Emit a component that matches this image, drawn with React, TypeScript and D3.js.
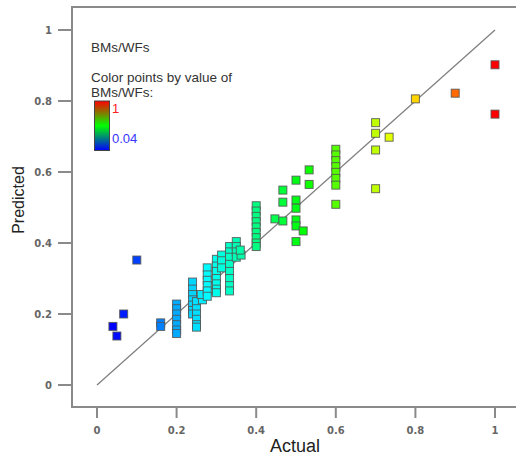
import React from "react";
import * as d3 from "d3";

// Actual vs. predicted BMs/WFs ratio
const actual = [
  0.04, 0.05, 0.067, 0.1,
  0.16, 0.16,
  0.2, 0.2, 0.2, 0.2, 0.2, 0.2, 0.2,
  0.24, 0.24, 0.24, 0.24, 0.24, 0.24, 0.24,
  0.25, 0.25, 0.25, 0.25, 0.25, 0.25,
  0.265, 0.262,
  0.277, 0.277, 0.277, 0.277, 0.277, 0.277,
  0.3, 0.3, 0.3, 0.3, 0.3, 0.3, 0.3,
  0.313, 0.313, 0.313,
  0.333, 0.333, 0.333, 0.333, 0.333, 0.333, 0.333, 0.333,
  0.35, 0.35, 0.35, 0.35,
  0.362, 0.36,
  0.4, 0.4, 0.4, 0.4, 0.4, 0.4, 0.4, 0.4, 0.4,
  0.447,
  0.467, 0.467, 0.467,
  0.5, 0.5, 0.5, 0.5, 0.5, 0.5,
  0.518,
  0.533, 0.533,
  0.6, 0.6, 0.6, 0.6, 0.6, 0.6, 0.6, 0.6,
  0.7, 0.7, 0.7, 0.7,
  0.734,
  0.8,
  0.9,
  1, 1,
];

const predicted = [
  0.165, 0.138, 0.2, 0.352,
  0.175, 0.165,
  0.228, 0.215, 0.2, 0.185, 0.17, 0.155, 0.145,
  0.29, 0.27, 0.255, 0.24, 0.225, 0.21, 0.2,
  0.235, 0.215, 0.2, 0.185, 0.17, 0.163,
  0.24, 0.255,
  0.33, 0.31, 0.295, 0.28, 0.265, 0.25,
  0.354, 0.335, 0.32, 0.3, 0.285, 0.27, 0.26,
  0.366, 0.35, 0.33,
  0.39, 0.375, 0.36, 0.34, 0.32, 0.3, 0.28, 0.265,
  0.404, 0.39, 0.375, 0.36,
  0.366, 0.38,
  0.505, 0.49, 0.475, 0.46, 0.445, 0.43, 0.415, 0.4, 0.39,
  0.468,
  0.549, 0.515, 0.462,
  0.577, 0.521, 0.498, 0.465, 0.448, 0.404,
  0.434,
  0.606, 0.565,
  0.664, 0.648, 0.632, 0.615, 0.599, 0.582, 0.563, 0.509,
  0.739, 0.709, 0.662, 0.553,
  0.698,
  0.806,
  0.822,
  0.902, 0.763,
];

const xTicks = [0, 0.2, 0.4, 0.6, 0.8, 1];
const yTicks = [0, 0.2, 0.4, 0.6, 0.8, 1];
const colorMin = 0.04;
const colorMax = 1;

const W = 516;
const H = 457;
const frame = { left: 72, top: 7, right: 520, bottom: 407 };

const x = d3.scaleLinear().domain([0, 1]).range([97, 495]);
const y = d3.scaleLinear().domain([0, 1]).range([385, 30]);
const hue = d3.scaleLinear().domain([colorMin, colorMax]).range([240, 0]).clamp(true);
const colorOf = (v: number) => d3.hsl(hue(v), 1, 0.5).formatHex();

const points = actual.map((a, i) => ({ a, p: predicted[i] }));
const SQ = 8;

export default function App() {
  const diag = d3.line<number>().x((v) => x(v)).y((v) => y(v))([0, 1]) ?? "";
  return (
    <svg
      width={W}
      height={H}
      style={{ position: "absolute", left: 0, top: 0, background: "#fff" }}
      fontFamily="'Liberation Sans', Arial, sans-serif"
    >
      <defs>
        <linearGradient id="cbar" x1="0" y1="0" x2="0" y2="1">
          <stop offset="0%" stopColor="#ff0000" />
          <stop offset="50%" stopColor="#00ff00" />
          <stop offset="100%" stopColor="#0000ff" />
        </linearGradient>
      </defs>

      {/* plot frame */}
      <rect
        x={frame.left}
        y={frame.top}
        width={frame.right - frame.left}
        height={frame.bottom - frame.top}
        fill="none"
        stroke="#8a8a8a"
        strokeWidth={2}
      />

      {/* y axis ticks */}
      {yTicks.map((t) => (
        <g key={"y" + t}>
          <line x1={58} x2={frame.left} y1={y(t)} y2={y(t)} stroke="#8a8a8a" strokeWidth={2} />
          <text
            x={52}
            y={y(t) + 3.5}
            textAnchor="end"
            fontFamily="'DejaVu Sans', sans-serif"
            fontWeight="bold"
            fontSize={10}
            fill="#666"
          >
            {d3.format("~g")(t)}
          </text>
        </g>
      ))}

      {/* x axis ticks */}
      {xTicks.map((t) => (
        <g key={"x" + t}>
          <line x1={x(t)} x2={x(t)} y1={frame.bottom} y2={418} stroke="#8a8a8a" strokeWidth={2} />
          <text
            x={x(t)}
            y={434}
            textAnchor="middle"
            fontFamily="'DejaVu Sans', sans-serif"
            fontWeight="bold"
            fontSize={10}
            fill="#666"
          >
            {d3.format("~g")(t)}
          </text>
        </g>
      ))}

      {/* axis titles */}
      <text x={295} y={452} textAnchor="middle" fontSize={18} fill="#222">
        Actual
      </text>
      <text
        transform={`translate(24,200) rotate(-90)`}
        textAnchor="middle"
        fontSize={16}
        fill="#222"
      >
        Predicted
      </text>

      {/* 1:1 reference line */}
      <path d={diag} stroke="#808080" strokeWidth={1.3} fill="none" />

      {/* data points */}
      {points.map((d, i) => (
        <rect
          key={i}
          x={x(d.a) - SQ / 2}
          y={y(d.p) - SQ / 2}
          width={SQ}
          height={SQ}
          fill={colorOf(d.a)}
          stroke="#555"
          strokeOpacity={0.85}
          strokeWidth={1}
        />
      ))}

      {/* legend */}
      <g fontSize={13.5} fill="#333">
        <text x={91} y={52}>BMs/WFs</text>
        <text x={91} y={82}>Color points by value of</text>
        <text x={91} y={97}>BMs/WFs:</text>
      </g>
      <rect x={94.5} y={101} width={15} height={49.5} fill="url(#cbar)" stroke="#444" strokeWidth={1} />
      <text x={112} y={113} fontSize={13} fill="#ff2020">
        {d3.format("~g")(colorMax)}
      </text>
      <text x={112} y={143} fontSize={13} fill="#3535ff">
        {d3.format("~g")(colorMin)}
      </text>
    </svg>
  );
}
